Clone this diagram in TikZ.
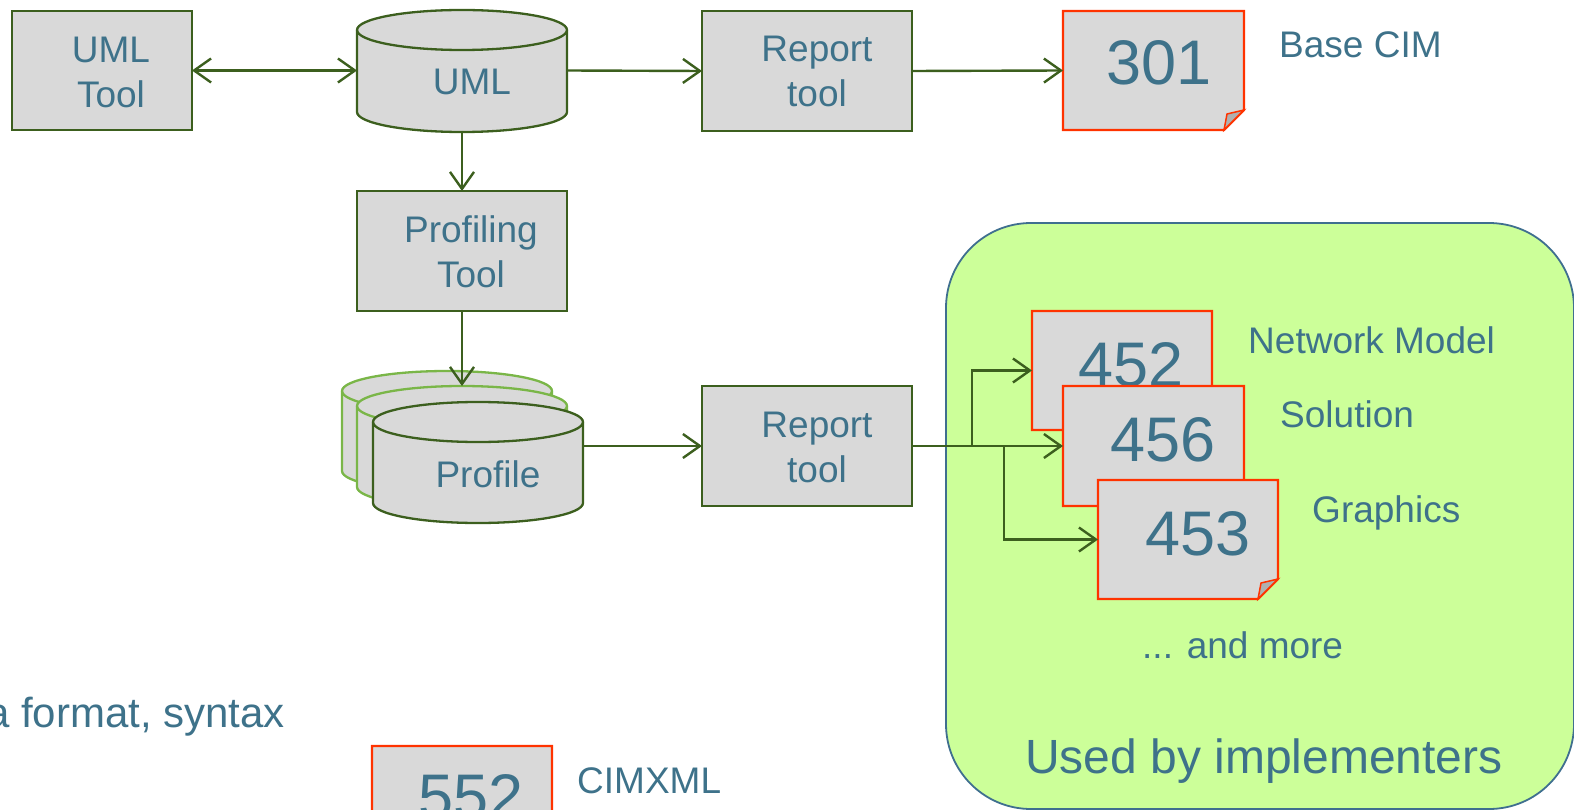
\documentclass[tikz,border=0pt]{standalone}
\usepackage{fontspec}
\setmainfont{Liberation Sans}
\usetikzlibrary{arrows.meta}
\definecolor{txtcol}{RGB}{62,114,138}
\definecolor{boxfill}{RGB}{217,217,217}
\definecolor{boxline}{RGB}{60,95,30}
\definecolor{docline}{RGB}{255,51,0}
\definecolor{flapfill}{RGB}{176,176,176}
\definecolor{panelfill}{RGB}{204,255,153}
\definecolor{panelline}{RGB}{63,111,143}
\definecolor{lightgreen}{RGB}{122,182,72}
\newcommand\fsA{\fontsize{37}{45}\selectfont}
\newcommand\fsB{\fontsize{63}{70}\selectfont}
\newcommand\fsC{\fontsize{48}{56}\selectfont}
\newcommand\fsD{\fontsize{42}{50}\selectfont}
\newcommand\cylshape[6]{%
  \filldraw[fill=boxfill, draw=#6, line width=2.3pt] ({#1-#4},#2) -- ({#1-#4},#3)
    arc[start angle=180, end angle=0, x radius=#4, y radius=#5] -- ({#1+#4},#2)
    arc[start angle=0, end angle=-180, x radius=#4, y radius=#5] -- cycle;
  \draw[draw=#6, line width=2.3pt] ({#1-#4},#2) arc[start angle=180, end angle=0, x radius=#4, y radius=#5];}
\newcommand\docshape[1]{%
  \filldraw[fill=boxfill, draw=docline, line width=2.3pt] (#1.north west) -- (#1.north east)
    -- ([yshift=20pt]#1.south east) -- ([xshift=-20pt]#1.south east) -- (#1.south west) -- cycle;
  \filldraw[fill=flapfill, draw=docline, line width=1.5pt] ([xshift=-20pt]#1.south east)
    -- ([xshift=-17pt,yshift=16pt]#1.south east) -- ([yshift=20pt]#1.south east) -- cycle;}
\tikzset{
  box/.style={draw=boxline, fill=boxfill, line width=2.3pt, inner sep=0pt, outer sep=0pt},
  inv/.style={draw=none, inner sep=0pt, outer sep=0pt},
  lbl/.style={text=txtcol, font=\fsA, inner sep=0pt, anchor=base},
  big/.style={text=txtcol, font=\fsB, inner sep=0pt, anchor=base},
  arr/.style={draw=boxline, line width=2.4pt, -{Straight Barb[length=17pt,width=24pt]}},
  dbl/.style={draw=boxline, line width=2.4pt, {Straight Barb[length=17pt,width=24pt]}-{Straight Barb[length=17pt,width=24pt]}}
}
\begin{document}
\begin{tikzpicture}[x=1pt,y=-1pt]
\useasboundingbox (0,0) rectangle (1574,810);
% green panel
\filldraw[fill=panelfill, draw=panelline, line width=1.8pt, rounded corners=85pt] (946,223) rectangle (1574,809);
\node[lbl, anchor=base] (usedby) at (1264,773) {\fsC Used by implementers};
% UML tool
\node[box, minimum width=180pt, minimum height=119pt] (umltool) at (102,70.5) {};
\node[lbl] (umltoolA) at (111,63) {UML};
\node[lbl] (umltoolB) at (111,108) {Tool};
% UML cylinder
\cylshape{462}{30}{112}{105}{20}{boxline}
\node[inv, minimum width=210pt, minimum height=121pt] (uml) at (462,70.5) {};
\node[lbl] (umlA) at (472,95) {UML};
% Report tool 1
\node[box, minimum width=210pt, minimum height=120pt] (rep1) at (807,71) {};
\node[lbl] (rep1A) at (817,62) {Report};
\node[lbl] (rep1B) at (817,107) {tool};
% 301
\node[inv, minimum width=181pt, minimum height=119pt] (d301) at (1153.5,70.5) {};
\docshape{d301}
\node[big] (t301) at (1159,85) {301};
\node[lbl, anchor=base west] (basecim) at (1279,58) {Base CIM};
% Profiling tool
\node[box, minimum width=210pt, minimum height=120pt] (prof) at (462,251) {};
\node[lbl] (profA) at (471,243) {Profiling};
\node[lbl] (profB) at (471,288) {Tool};
% Profile stack
\cylshape{447}{391}{471}{105}{20}{lightgreen}
\cylshape{462}{406}{487}{105}{20}{lightgreen}
\cylshape{478}{422}{503}{105}{20}{boxline}
\node[inv, minimum width=210pt, minimum height=121pt] (profback) at (462,446.5) {};
\node[inv, minimum width=210pt, minimum height=121pt] (profile) at (478,462.5) {};
\node[lbl] (profileA) at (488,487) {Profile};
% Report tool 2
\node[box, minimum width=210pt, minimum height=120pt] (rep2) at (807,446) {};
\node[lbl] (rep2A) at (817,437) {Report};
\node[lbl] (rep2B) at (817,482) {tool};
% docs 452 456 453
\node[inv, minimum width=180pt, minimum height=119pt] (d452) at (1122,370.5) {};
\docshape{d452}
\node[big] (t452) at (1131,386) {452};
\node[inv, minimum width=181pt, minimum height=120pt] (d456) at (1153.5,446) {};
\docshape{d456}
\node[big] (t456) at (1163,461) {456};
\node[inv, minimum width=180pt, minimum height=119pt] (d453) at (1188,539.5) {};
\docshape{d453}
\node[big] (t453) at (1198,555) {453};
\node[lbl, anchor=base west] (netmodel) at (1248,353) {Network Model};
\node[lbl, anchor=base west] (solution) at (1280,427) {Solution};
\node[lbl, anchor=base west] (graphics) at (1312,522) {Graphics};
\node[lbl, anchor=base west] (andmore) at (1142,658) {... and more};
% bottom left
\node[lbl, anchor=base east, font=\fsD] (format) at (285,727) {a format, syntax};
\node[inv, minimum width=180pt, minimum height=120pt] (d552) at (462,806) {};
\docshape{d552}
\node[big] (t552) at (471,818) {552};
\node[lbl, anchor=base west] (cimxml) at (577,793) {CIMXML};
% connectors
\draw[dbl] (umltool.east) -- (uml.west);
\draw[arr] (uml.east) -- (rep1.west);
\draw[arr] (rep1.east) -- (d301.west);
\draw[arr] (uml.south) -- (prof.north);
\draw[arr] (prof.south) -- (profback.north);
\draw[arr] (rep2.west -| profile.east) -- (rep2.west);
\coordinate (b1) at (972,446);
\coordinate (b3) at (1004,446);
\draw[arr] (rep2.east) -- (d456.west);
\draw[arr] (b1) |- (d452.west);
\draw[arr] (b3) |- (d453.west);
\end{tikzpicture}
\end{document}
